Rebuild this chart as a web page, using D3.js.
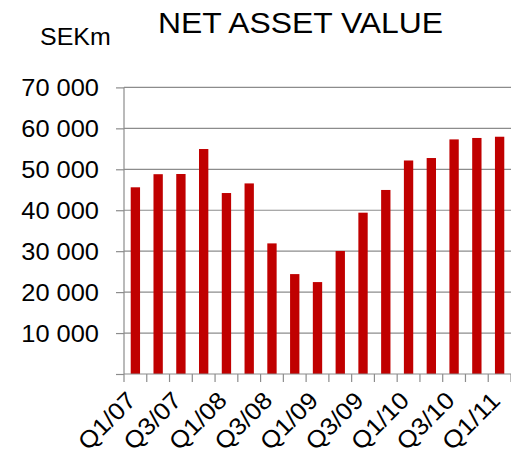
<!DOCTYPE html>
<html>
<head>
<meta charset="utf-8">
<script src="https://cdn.jsdelivr.net/npm/d3@7"></script>
<style>
  html, body { margin: 0; padding: 0; background: #fff; }
  svg { display: block; }
  text { font-family: "Liberation Sans", Arial, sans-serif; fill: #000; }
</style>
</head>
<body>
<div id="chart"></div>
<script>
const categories = ["Q1/07","Q2/07","Q3/07","Q4/07","Q1/08","Q2/08","Q3/08","Q4/08","Q1/09","Q2/09","Q3/09","Q4/09","Q1/10","Q2/10","Q3/10","Q4/10","Q1/11"];
const navValues = [45600, 48800, 48850, 54950, 44200, 46550, 31900, 24400, 22450, 30050, 39400, 44950, 52150, 52750, 57300, 57650, 57950];
const shownLabels = ["Q1/07","Q3/07","Q1/08","Q3/08","Q1/09","Q3/09","Q1/10","Q3/10","Q1/11"];
const yTicks = [0, 10000, 20000, 30000, 40000, 50000, 60000, 70000];
const titleText = "NET ASSET VALUE";
const unitText = "SEKm";

(function () {
const W = 511, H = 456;
const pLeft = 124, pRight = 511, pTop = 87.4, pBottom = 374;
const gridColor = "#8c8c8c";
const barColor = "#C00000";

const svg = d3.select("#chart").append("svg").attr("width", W).attr("height", H);

const x = d3.scaleBand().domain(categories).range([pLeft, pRight]).padding(0);
const y = d3.scaleLinear().domain([0, 70000]).range([pBottom, pTop]);

// gridlines
svg.append("g").selectAll("line").data(yTicks.filter(d => d > 0)).join("line")
  .attr("x1", pLeft).attr("x2", pRight)
  .attr("y1", d => y(d)).attr("y2", d => y(d))
  .attr("stroke", gridColor).attr("stroke-width", 1.2);

// bars
const barW = x.bandwidth() * 0.41;
svg.append("g").selectAll("rect").data(navValues).join("rect")
  .attr("x", (d, i) => x(categories[i]) + (x.bandwidth() - barW) / 2)
  .attr("width", barW)
  .attr("y", d => y(d))
  .attr("height", d => y(0) - y(d))
  .attr("fill", barColor);

// y axis
const fmt = d => d3.format(",")(d).replace(/,/g, " ");
const yAxis = d3.axisLeft(y).tickValues(yTicks).tickSize(8).tickPadding(17)
  .tickFormat(d => d === 0 ? "" : fmt(d));
const gy = svg.append("g").attr("transform", `translate(${pLeft},0)`).call(yAxis);
gy.select(".domain").attr("stroke", gridColor).attr("stroke-width", 1.2).attr("d", `M0,${pTop}V${pBottom}`);
gy.selectAll(".tick line").attr("stroke", gridColor).attr("stroke-width", 1.2);
gy.selectAll(".tick text")
  .attr("font-size", 23).attr("dy", "0.36em")
  .attr("font-family", "'Liberation Sans', Arial, sans-serif")
  .attr("fill", "#000")
  .attr("textLength", function() { return this.textContent ? 77.7 : null; })
  .attr("lengthAdjust", "spacingAndGlyphs");

// x axis with ticks at band boundaries
const boundaries = categories.map(c => x(c)).concat([pRight]);
svg.append("line").attr("x1", pLeft).attr("x2", pRight).attr("y1", pBottom).attr("y2", pBottom)
  .attr("stroke", gridColor).attr("stroke-width", 1.2);
svg.append("g").selectAll("line").data(boundaries).join("line")
  .attr("x1", d => d).attr("x2", d => d).attr("y1", pBottom).attr("y2", pBottom + 8)
  .attr("stroke", gridColor).attr("stroke-width", 1.2);

// x labels
svg.append("g").selectAll("text").data(shownLabels).join("text")
  .attr("transform", d => `translate(${x(d) + x.bandwidth() / 2 + 2},${pBottom + 28}) rotate(-45)`)
  .attr("text-anchor", "end")
  .attr("font-size", 24)
  .attr("textLength", 70)
  .attr("lengthAdjust", "spacingAndGlyphs")
  .text(d => d);

// title and unit
svg.append("text").attr("x", 158).attr("y", 33.3).attr("font-size", 29)
  .attr("textLength", 285).attr("lengthAdjust", "spacingAndGlyphs").text(titleText);
svg.append("text").attr("x", 40).attr("y", 45).attr("font-size", 23)
  .attr("textLength", 70.7).attr("lengthAdjust", "spacingAndGlyphs").text(unitText);
})();
</script>
</body>
</html>
